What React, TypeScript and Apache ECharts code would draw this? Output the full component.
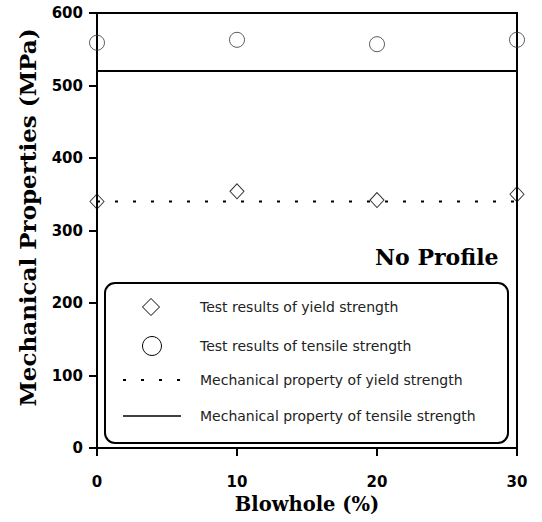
import React, { useEffect, useRef } from "react";
import * as echarts from "echarts";

const blowhole = [0, 10, 20, 30];
const yieldTest = [340, 354, 342, 350];
const tensileTest = [559, 563, 557, 563];
const yieldProperty = 340;
const tensileProperty = 520;
const seriesNames = [
  "Test results of yield strength",
  "Test results of tensile strength",
  "Mechanical property of yield strength",
  "Mechanical property of tensile strength",
];
const xTitle = "Blowhole (%)";
const yTitle = "Mechanical Properties (MPa)";
const note = "No Profile";

export default function App() {
  const ref = useRef<HTMLDivElement>(null);
  useEffect(() => {
    if (!ref.current) return;
    const chart = echarts.init(ref.current, null, { renderer: "svg" });
    const xMin = blowhole[0];
    const xMax = blowhole[blowhole.length - 1];
    const tickFont = {
      fontFamily: "DejaVu Sans",
      fontWeight: "bold" as const,
      fontSize: 15,
      color: "#000",
    };
    const titleFont = {
      fontFamily: "DejaVu Serif",
      fontWeight: "bold" as const,
      color: "#000",
    };
    const legendFont = "14px 'DejaVu Sans'";
    const legendYs = [307, 346, 380, 416];
    chart.setOption({
      animation: false,
      backgroundColor: "#fff",
      grid: {
        left: 97,
        right: 25,
        top: 13,
        bottom: 74,
        show: true,
        borderColor: "#000",
        borderWidth: 2,
      },
      xAxis: {
        type: "value",
        min: 0,
        max: 30,
        interval: 10,
        name: xTitle,
        nameLocation: "middle",
        nameGap: 46,
        nameTextStyle: { ...titleFont, fontSize: 19.5 },
        axisLine: { show: true, lineStyle: { color: "#000", width: 2 } },
        axisTick: { show: true, inside: false, length: 8, lineStyle: { color: "#000", width: 2 } },
        axisLabel: { ...tickFont, margin: 26 },
        splitLine: { show: false },
      },
      yAxis: {
        type: "value",
        min: 0,
        max: 600,
        interval: 100,
        name: yTitle,
        nameLocation: "middle",
        nameGap: 58,
        nameTextStyle: { ...titleFont, fontSize: 23, padding: [0, 0, 0, 26] },
        axisLine: { show: true, lineStyle: { color: "#000", width: 2 } },
        axisTick: { show: true, inside: false, length: 8, lineStyle: { color: "#000", width: 2 } },
        axisLabel: { ...tickFont, margin: 14 },
        splitLine: { show: false },
      },
      series: [
        {
          name: seriesNames[0],
          type: "scatter",
          data: blowhole.map((x, i) => [x, yieldTest[i]]),
          symbol: "diamond",
          symbolSize: [14, 15],
          itemStyle: { color: "rgba(0,0,0,0)", borderColor: "#000", borderWidth: 1 },
          z: 5,
        },
        {
          name: seriesNames[1],
          type: "scatter",
          data: blowhole.map((x, i) => [x, tensileTest[i]]),
          symbol: "circle",
          symbolSize: 15,
          itemStyle: { color: "rgba(0,0,0,0)", borderColor: "#333", borderWidth: 1 },
          z: 5,
        },
        {
          name: seriesNames[2],
          type: "line",
          data: [
            [xMin, yieldProperty],
            [xMax, yieldProperty],
          ],
          showSymbol: false,
          symbol: "none",
          lineStyle: { color: "#000", width: 2, type: [3, 15] },
        },
        {
          name: seriesNames[3],
          type: "line",
          data: [
            [xMin, tensileProperty],
            [xMax, tensileProperty],
          ],
          showSymbol: false,
          symbol: "none",
          lineStyle: { color: "#000", width: 2 },
        },
      ],
      graphic: [
        {
          type: "text",
          left: 375,
          top: 246,
          style: { text: note, font: "bold 22px 'DejaVu Serif'", fill: "#000" },
        },
        {
          type: "rect",
          shape: { x: 105, y: 283, width: 403, height: 160, r: 10 },
          style: { fill: "#fff", stroke: "#000", lineWidth: 2 },
          z: 10,
        },
        {
          type: "polygon",
          shape: {
            points: [
              [151, legendYs[0] - 8.5],
              [159.5, legendYs[0]],
              [151, legendYs[0] + 8.5],
              [142.5, legendYs[0]],
            ],
          },
          style: { fill: "none", stroke: "#000", lineWidth: 1 },
          z: 11,
        },
        {
          type: "circle",
          shape: { cx: 152, cy: legendYs[1], r: 9.5 },
          style: { fill: "none", stroke: "#000", lineWidth: 1 },
          z: 11,
        },
        {
          type: "line",
          shape: { x1: 123, y1: legendYs[2], x2: 181, y2: legendYs[2] },
          style: { stroke: "#000", lineWidth: 2, lineDash: [3, 15] },
          z: 11,
        },
        {
          type: "line",
          shape: { x1: 123, y1: legendYs[3], x2: 181, y2: legendYs[3] },
          style: { stroke: "#000", lineWidth: 1.5 },
          z: 11,
        },
        ...seriesNames.map((name, i) => ({
          type: "text",
          x: 200,
          y: legendYs[i],
          z: 11,
          style: {
            text: name,
            font: legendFont,
            fill: "#222",
            verticalAlign: "middle",
            align: "left",
          },
        })),
      ],
    });
    return () => chart.dispose();
  }, []);
  return (
    <div
      ref={ref}
      style={{ position: "fixed", left: 0, top: 0, width: 542, height: 522 }}
    />
  );
}
